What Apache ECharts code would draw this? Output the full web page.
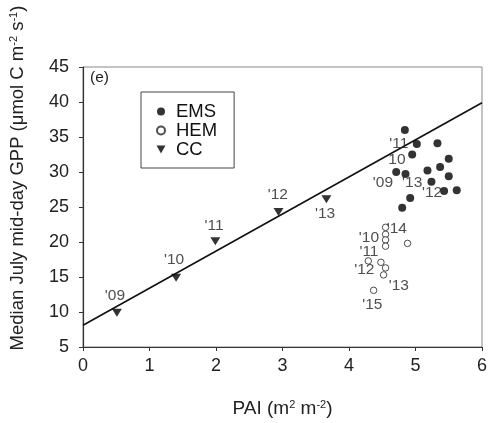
<!DOCTYPE html>
<html>
<head>
<meta charset="utf-8">
<script src="https://cdn.jsdelivr.net/npm/echarts@6/dist/echarts.min.js"></script>
<style>
  html, body { margin: 0; padding: 0; background: #fff; }
  #chart { width: 493px; height: 423px; }
</style>
</head>
<body>
<div id="chart"></div>
<script>
// PAI, GPP pairs
var emsPoints = [
  [4.84, 36.0], [5.02, 34.0], [5.33, 34.1], [4.95, 32.5], [5.50, 31.9],
  [4.71, 30.0], [4.85, 29.7], [5.18, 30.2], [5.37, 30.7], [5.50, 29.4],
  [5.24, 28.6], [5.43, 27.3], [5.62, 27.4], [4.92, 26.3], [4.80, 24.9]
];
var hemPoints = [
  [4.55, 22.1], [4.55, 21.1], [4.55, 20.3], [4.55, 19.4], [4.88, 19.8],
  [4.29, 17.3], [4.48, 17.1], [4.55, 16.3], [4.52, 15.3], [4.37, 13.1]
];
var ccPoints = [
  [0.51, 9.9], [1.40, 14.9], [1.99, 20.1], [2.94, 24.3], [3.66, 26.1]
];
// regression line end points
var fitLine = [[0, 8.1], [6, 39.9]];

// year labels: text, PAI, GPP
var emsLabels = [["'11", 4.75, 34.1], ["10", 4.72, 31.7], ["'09", 4.51, 28.4], ["'13", 4.95, 28.4], ["'12", 5.25, 27.0]];
var hemLabels = [["'14", 4.72, 21.9], ["'10", 4.30, 20.6], ["'11", 4.30, 18.6], ["'12", 4.23, 16.0], ["'13", 4.75, 13.7], ["'15", 4.35, 11.0]];
var ccLabels = [["'09", 0.48, 12.3], ["'10", 1.37, 17.4], ["'11", 1.97, 22.3], ["'12", 2.93, 26.7], ["'13", 3.64, 24.0]];

var xTicks = [0, 1, 2, 3, 4, 5, 6];
var yTicks = [5, 10, 15, 20, 25, 30, 35, 40, 45];

var font = 'Liberation Sans, Arial, sans-serif';
var triDown = 'path://M0,0 L10,0 L5,9 Z';

function labelSeries(rows) {
  return {
    type: 'scatter',
    symbolSize: 0,
    silent: true,
    data: rows.map(function (r) { return { value: [r[1], r[2]], name: r[0] }; }),
    label: {
      show: true,
      position: 'inside',
      formatter: '{b}',
      color: '#222',
      fontSize: 15.5,
      fontFamily: font
    },
    z: 5
  };
}

var supStyle = { fontSize: 11, verticalAlign: 'top', padding: [0, 0, 8, 0], fontFamily: font, color: '#222' };

var chart = echarts.init(document.getElementById('chart'));
chart.setOption({
  backgroundColor: '#fff',
  animation: false,
  grid: { left: 82, right: 11, top: 67, bottom: 76, show: true, borderColor: '#888', borderWidth: 1 },
  legend: {
    left: 141, top: 92,
    orient: 'vertical',
    data: ['EMS', 'HEM', 'CC'],
    borderColor: '#444', borderWidth: 1,
    padding: [10, 17, 9, 15],
    itemWidth: 20, itemHeight: 8, itemGap: 0,
    textStyle: { fontSize: 18.5, fontFamily: font, color: '#111', lineHeight: 16 }
  },
  xAxis: {
    type: 'value', min: 0, max: 6, interval: 1,
    name: 'PAI (m{sup|2} m{sup|-2})',
    nameLocation: 'middle', nameGap: 52,
    nameTextStyle: { fontSize: 19, fontFamily: font, color: '#222', rich: { sup: supStyle } },
    axisLine: { onZero: false, lineStyle: { color: '#333', width: 1.2 } },
    axisTick: { length: 4, lineStyle: { color: '#333' } },
    axisLabel: { fontSize: 18, fontFamily: font, color: '#222', margin: 10,
      formatter: function (v) { return xTicks.indexOf(v) >= 0 ? String(v) : ''; } },
    splitLine: { show: false }
  },
  yAxis: {
    type: 'value', min: 5, max: 45, interval: 5,
    name: 'Median July mid-day GPP (\u03bcmol C m{sup|-2} s{sup|-1})',
    nameLocation: 'middle', nameGap: 56,
    nameTextStyle: { fontSize: 18.5, fontFamily: font, color: '#222', padding: [0, 0, 0, 58], rich: { sup: supStyle } },
    axisLine: { onZero: false, lineStyle: { color: '#333', width: 1.2 } },
    axisTick: { length: 4, lineStyle: { color: '#333' } },
    axisLabel: { fontSize: 18, fontFamily: font, color: '#222', margin: 14,
      formatter: function (v) { return yTicks.indexOf(v) >= 0 ? String(v) : ''; } },
    splitLine: { show: false }
  },
  graphic: [{
    type: 'text', left: 90, top: 70,
    style: { text: '(e)', fontSize: 15.5, fontFamily: font, fill: '#222' }
  }],
  series: [
    {
      type: 'line', data: fitLine, symbol: 'none', silent: true,
      lineStyle: { color: '#111', width: 1.6 }, z: 1
    },
    {
      name: 'EMS', type: 'scatter', data: emsPoints,
      symbol: 'circle', symbolSize: 8,
      itemStyle: { color: '#000' }, z: 3
    },
    {
      name: 'HEM', type: 'scatter', data: hemPoints,
      symbol: 'circle', symbolSize: 6.5,
      itemStyle: { color: '#fff', borderColor: '#222', borderWidth: 1 }, z: 3
    },
    {
      name: 'CC', type: 'scatter', data: ccPoints,
      symbol: triDown, symbolSize: [10, 8],
      itemStyle: { color: '#000' }, z: 3
    },
    labelSeries(emsLabels),
    labelSeries(hemLabels),
    labelSeries(ccLabels)
  ]
});
</script>
</body>
</html>
